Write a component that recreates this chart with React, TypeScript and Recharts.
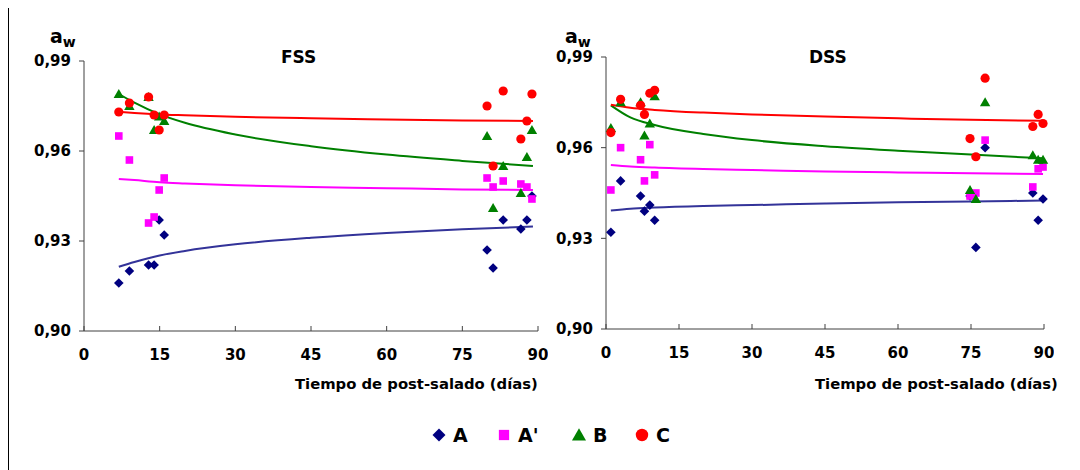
import React from "react";
import { ComposedChart, Scatter, Line, XAxis, YAxis } from "recharts";

const FONT = "'DejaVu Sans', Verdana, sans-serif";

const xTicks = [0, 15, 30, 45, 60, 75, 90];
const yTicks = [0.9, 0.93, 0.96, 0.99];
const seriesNames = ["A", "A'", "B", "C"];
const seriesColors = ["#000080", "#FF00FF", "#008000", "#FF0000"];
const trendColors = ["#333399", "#FF00FF", "#008000", "#FF0000"];
const markerKinds = ["diamond", "square", "triangle", "circle"];
const xTitle = "Tiempo de post-salado (días)";

// FSS - puntos medidos
const fssDays = [6.9, 9.0, 12.8, 13.9, 14.9, 15.9, 79.9, 81.1, 83.1, 86.6, 87.8, 88.8];
const fssA = [0.916, 0.92, 0.922, 0.922, 0.937, 0.932, 0.927, 0.921, 0.937, 0.934, 0.937, 0.945];
const fssA2 = [0.965, 0.957, 0.936, 0.938, 0.947, 0.951, 0.951, 0.948, 0.95, 0.949, 0.948, 0.944];
const fssB = [0.979, 0.975, 0.978, 0.967, 0.9715, 0.97, 0.965, 0.941, 0.955, 0.946, 0.958, 0.967];
const fssC = [0.973, 0.976, 0.978, 0.972, 0.967, 0.972, 0.975, 0.955, 0.98, 0.964, 0.97, 0.979];

// FSS - lineas de tendencia
const fssTrendDays = [6.9, 10, 15, 20, 30, 45, 60, 75, 89];
const fssTrendA = [0.9214, 0.923, 0.9252, 0.9267, 0.9289, 0.9311, 0.9327, 0.9339, 0.9348];
const fssTrendA2 = [0.9507, 0.9503, 0.9496, 0.9492, 0.9486, 0.948, 0.9476, 0.9472, 0.947];
const fssTrendB = [0.979, 0.9761, 0.9722, 0.9694, 0.9655, 0.9616, 0.9588, 0.9567, 0.955];
const fssTrendC = [0.9731, 0.9727, 0.9722, 0.9719, 0.9714, 0.9709, 0.9705, 0.9702, 0.97];

// DSS - puntos medidos
const dssDays = [1.0, 3.0, 7.1, 7.9, 9.0, 10.0, 74.8, 76.0, 77.9, 87.7, 88.8, 89.8];
const dssA = [0.932, 0.949, 0.944, 0.939, 0.941, 0.936, 0.944, 0.927, 0.96, 0.945, 0.936, 0.943];
const dssA2 = [0.946, 0.96, 0.956, 0.949, 0.961, 0.951, 0.944, 0.945, 0.9625, 0.947, 0.953, 0.9536];
const dssB = [0.9665, 0.975, 0.975, 0.964, 0.968, 0.977, 0.946, 0.943, 0.975, 0.9575, 0.956, 0.956];
const dssC = [0.965, 0.976, 0.974, 0.971, 0.978, 0.979, 0.963, 0.957, 0.983, 0.967, 0.971, 0.968];

// DSS - lineas de tendencia
const dssTrendDays = [1.0, 5, 10, 20, 30, 45, 60, 75, 89.8];
const dssTrendA = [0.9392, 0.9398, 0.9402, 0.9407, 0.941, 0.9415, 0.9419, 0.9422, 0.9425];
const dssTrendA2 = [0.9543, 0.9538, 0.9534, 0.9529, 0.9526, 0.9521, 0.9518, 0.9515, 0.9513];
const dssTrendB = [0.974, 0.97, 0.9675, 0.9645, 0.9625, 0.9605, 0.959, 0.9577, 0.9565];
const dssTrendC = [0.9742, 0.9732, 0.9725, 0.9716, 0.971, 0.9703, 0.9697, 0.9692, 0.9689];

const toPoints = (days: number[], vals: number[]) => days.map((d, i) => ({ d, v: vals[i] }));

const Marker = ({ kind, cx, cy, color, s = 1 }: any) => {
   if (kind === "diamond") {
      const h = 4.8 * s;
      return <polygon points={`${cx},${cy - h} ${cx + h},${cy} ${cx},${cy + h} ${cx - h},${cy}`} fill={color} />;
   }
   if (kind === "square") {
      const h = 3.8 * s;
      return <rect x={cx - h} y={cy - h} width={2 * h} height={2 * h} fill={color} />;
   }
   if (kind === "triangle") {
      const w = 5.2 * s;
      return <polygon points={`${cx},${cy - 5 * s} ${cx + w},${cy + 4 * s} ${cx - w},${cy + 4 * s}`} fill={color} />;
   }
   return <circle cx={cx} cy={cy} r={4.6 * s} fill={color} />;
};

const XTick = (props: any) => {
   const { x, y, payload } = props;
   return (
      <g>
         <line x1={x} x2={x} y1={y - 18} y2={y - 23} stroke="#404040" />
         <text x={x} y={y} dy="0.72em" textAnchor="middle" fill="#000" fontSize={15} fontWeight="bold" fontFamily={FONT}>
            {payload.value}
         </text>
      </g>
   );
};

const fmtY = (v: number) => v.toFixed(2).replace(".", ",");

const Panel = ({ left, width, marginTop, plotHeight, days, series, trendDays, trends }: any) => {
   const H = 400;
   return (
      <div style={{ position: "absolute", left, top: 0 }}>
         <ComposedChart
            width={width}
            height={H}
            margin={{ top: marginTop, right: 10, left: 16, bottom: H - marginTop - plotHeight - 30 }}
         >
            <XAxis
               type="number"
               dataKey="d"
               domain={[0, 90]}
               ticks={xTicks}
               interval={0}
               height={30}
               stroke="#404040"
               tickSize={0}
               tickMargin={18}
               tick={<XTick />}
            />
            <YAxis
               type="number"
               dataKey="v"
               domain={[0.9, 0.99]}
               ticks={yTicks}
               interval={0}
               width={60}
               allowDataOverflow
               stroke="#404040"
               tickSize={5}
               tickMargin={8}
               tickFormatter={fmtY}
               tick={{ fill: "#000", fontSize: 15, fontWeight: "bold", fontFamily: FONT }}
            />
            {series.map((vals: number[], i: number) => (
               <Scatter
                  key={seriesNames[i]}
                  name={seriesNames[i]}
                  data={toPoints(days, vals)}
                  dataKey="v"
                  isAnimationActive={false}
                  shape={(p: any) => <Marker kind={markerKinds[i]} cx={p.cx} cy={p.cy} color={seriesColors[i]} />}
               />
            ))}
            {trends.map((vals: number[], i: number) => (
               <Line
                  key={"t" + seriesNames[i]}
                  data={toPoints(trendDays, vals)}
                  dataKey="v"
                  type="monotone"
                  stroke={trendColors[i]}
                  strokeWidth={2}
                  dot={false}
                  activeDot={false}
                  isAnimationActive={false}
               />
            ))}
         </ComposedChart>
      </div>
   );
};

const textStyle = (left: number, top: number, size: number): React.CSSProperties => ({
   position: "absolute",
   left,
   top,
   fontFamily: FONT,
   fontWeight: "bold",
   fontSize: size,
   lineHeight: 1,
   whiteSpace: "nowrap",
   color: "#000",
});

const Aw = ({ left, top }: any) => (
   <div style={textStyle(left, top, 19)}>
      a<span style={{ fontSize: 14, position: "relative", top: 4 }}>w</span>
   </div>
);

export default function App() {
   const legendX = [439, 504, 579, 642];
   return (
      <div style={{ position: "relative", width: 1072, height: 462, overflow: "hidden", background: "#fff" }}>
         <div
            style={{
               position: "absolute",
               left: -1,
               top: -2,
               width: 1200,
               height: 600,
               border: "2px solid #000",
               boxSizing: "border-box",
            }}
         />
         <Panel
            left={0}
            width={540}
            marginTop={53}
            plotHeight={270}
            days={fssDays}
            series={[fssA, fssA2, fssB, fssC]}
            trendDays={fssTrendDays}
            trends={[fssTrendA, fssTrendA2, fssTrendB, fssTrendC]}
         />
         <Panel
            left={522}
            width={524}
            marginTop={49}
            plotHeight={272}
            days={dssDays}
            series={[dssA, dssA2, dssB, dssC]}
            trendDays={dssTrendDays}
            trends={[dssTrendA, dssTrendA2, dssTrendB, dssTrendC]}
         />
         <Aw left={42} top={19} />
         <Aw left={557} top={19} />
         <div style={textStyle(273, 41, 17)}>FSS</div>
         <div style={textStyle(801, 41, 17)}>DSS</div>
         <div style={textStyle(295 - 8, 377 - 8, 14.8)}>{xTitle}</div>
         <div style={textStyle(815 - 8, 377 - 8, 14.8)}>{xTitle}</div>
         <svg style={{ position: "absolute", left: 0, top: 0 }} width={1072} height={462}>
            {seriesNames.map((n, i) => (
               <g key={n}>
                  <Marker kind={markerKinds[i]} cx={legendX[i] - 8} cy={435 - 8} color={seriesColors[i]} s={1.35} />
                  <text
                     x={legendX[i] + 14 - 8}
                     y={435 - 8}
                     dy="0.36em"
                     fontSize={19}
                     fontWeight="bold"
                     fontFamily={FONT}
                     fill="#000"
                  >
                     {n}
                  </text>
               </g>
            ))}
         </svg>
      </div>
   );
}
